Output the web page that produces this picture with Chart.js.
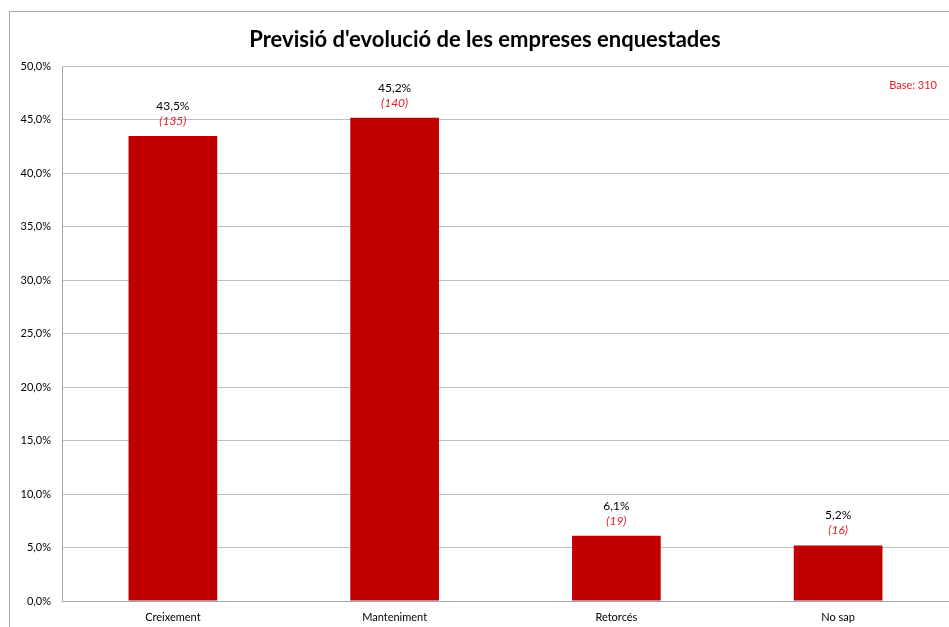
<!DOCTYPE html>
<html>
<head>
<meta charset="utf-8">
<script src="https://cdn.jsdelivr.net/npm/chart.js@4"></script>
<style>
  html, body { margin: 0; padding: 0; background: #fff; }
  #wrap { position: relative; width: 949px; height: 627px; }
</style>
</head>
<body>
<div id="wrap"><canvas id="chart" width="949" height="627"></canvas></div>
<script>
// ── DATA ──
const categories = ['Creixement', 'Manteniment', 'Retorcés', 'No sap'];
const percents   = [43.5, 45.2, 6.1, 5.2];
const counts     = [135, 140, 19, 16];
const baseText   = 'Base: 310';
const titleText  = "Previsió d'evolució de les empreses enquestades";

const FONT = "'Lato', 'Liberation Sans', sans-serif";
const RED = '#C00000';

const fmtPct = v => v.toFixed(1).replace('.', ',') + '%';

// outer frame + base note + value labels
const decor = {
  id: 'decor',
  beforeDraw(chart) {
    const c = chart.ctx;
    c.save();
    c.strokeStyle = '#A6A6A6';
    c.lineWidth = 1;
    c.strokeRect(9.5, 11.5, 960, 640);
    c.restore();
  },
  afterDatasetsDraw(chart) {
    const c = chart.ctx;
    const meta = chart.getDatasetMeta(0);
    c.save();
    c.textAlign = 'center';
    c.textBaseline = 'middle';
    meta.data.forEach((bar, i) => {
      c.fillStyle = '#000';
      c.font = `12px ${FONT}`;
      c.fillText(fmtPct(percents[i]), bar.x, bar.y - 30);
      c.fillStyle = '#E0202A';
      c.font = `italic 12px ${FONT}`;
      c.fillText('(' + counts[i] + ')', bar.x, bar.y - 15);
    });
    c.fillStyle = '#E0202A';
    c.font = `11px ${FONT}`;
    c.textAlign = 'right';
    c.fillText(baseText, 937, 85);
    c.restore();
  }
};

new Chart(document.getElementById('chart'), {
  type: 'bar',
  data: {
    labels: categories,
    datasets: [{
      data: percents,
      backgroundColor: RED,
      borderWidth: 0,
      categoryPercentage: 1,
      barPercentage: 0.4
    }]
  },
  options: {
    responsive: false,
    animation: false,
    layout: { padding: { left: 20, right: -1, top: 0, bottom: 0 } },
    plugins: {
      legend: { display: false },
      tooltip: { enabled: false },
      title: {
        display: true,
        text: titleText,
        color: '#000',
        font: { family: FONT, size: 22, weight: 'bold' },
        padding: { top: 27, bottom: 13 }
      }
    },
    scales: {
      x: {
        grid: { display: false, drawTicks: false },
        border: { color: '#A6A6A6' },
        ticks: { color: '#000', font: { family: FONT, size: 11 }, padding: 10 },
        afterFit(s) { s.height = 26; }
      },
      y: {
        min: 0, max: 50,
        grid: { color: '#BFBFBF', drawTicks: false },
        border: { color: '#A6A6A6' },
        ticks: {
          stepSize: 5,
          color: '#000',
          font: { family: FONT, size: 11 },
          padding: 11,
          callback: v => fmtPct(v)
        },
        afterFit(s) { s.width = 42; }
      }
    }
  },
  plugins: [decor]
});
</script>
</body>
</html>
